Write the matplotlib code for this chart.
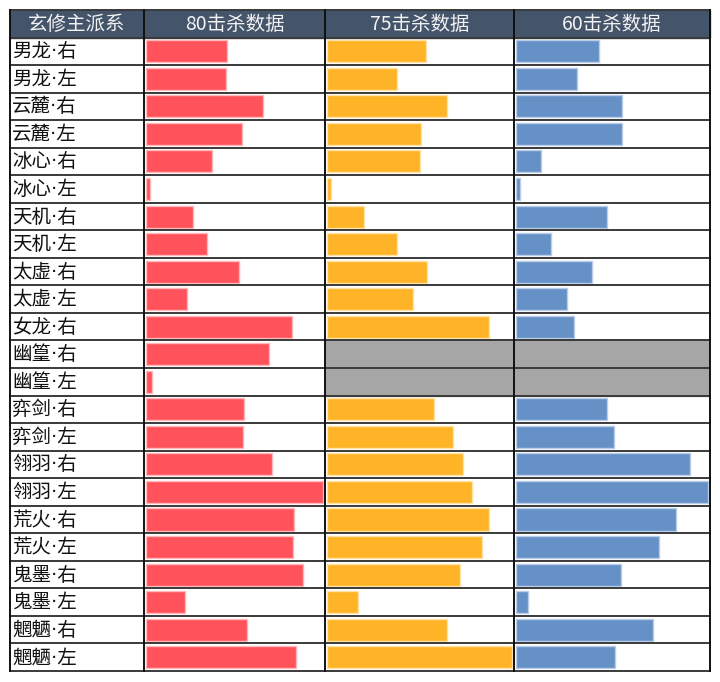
import numpy as np
import matplotlib
matplotlib.use("Agg")
import matplotlib.pyplot as plt

plt.rcParams['font.family'] = ['Noto Sans CJK SC', 'DejaVu Sans']

# 数据（按最大值归一化后的百分比，从图中读取）
names = ["男龙·右", "男龙·左", "云麓·右", "云麓·左", "冰心·右", "冰心·左",
         "天机·右", "天机·左", "太虚·右", "太虚·左", "女龙·右", "幽篁·右",
         "幽篁·左", "弈剑·右", "弈剑·左", "翎羽·右", "翎羽·左", "荒火·右",
         "荒火·左", "鬼墨·右", "鬼墨·左", "魍魉·右", "魍魉·左"]
headers = ["玄修主派系", "80击杀数据", "75击杀数据", "60击杀数据"]
kill80 = [45.8, 45.0, 66.2, 54.2, 37.3, 2.1, 26.6, 34.5, 52.7, 23.3, 82.3, 69.6,
          3.6, 55.5, 54.8, 71.1, 100.0, 83.8, 82.9, 88.7, 21.8, 57.0, 84.6]
kill75 = [53.4, 37.7, 64.8, 50.7, 50.0, 1.8, 20.2, 37.7, 53.9, 46.6, 87.9, np.nan,
          np.nan, 58.1, 68.2, 73.6, 78.5, 87.9, 83.7, 72.2, 16.8, 64.8, 100.0]
kill60 = [43.1, 31.9, 55.0, 55.0, 12.9, 1.9, 47.6, 18.1, 39.8, 26.7, 30.0, np.nan,
          np.nan, 47.6, 50.9, 90.9, 100.0, 83.6, 74.5, 54.8, 6.3, 71.2, 51.6]
series = [kill80, kill75, kill60]
bar_colors = ["#FF525A", "#FFB427", "#6591C7"]
edge_colors = ["#FFB8BC", "#FFE2A6", "#B9CDE8"]

# 版面（像素）
W, H = 720, 682
col_edges = [10, 144, 325, 514, 710]
top, head_bottom, bottom = 10, 37.5, 671
n = len(names)

fig = plt.figure(figsize=(W / 100, H / 100), dpi=100)

# 背景：表头和名称列
bg = fig.add_axes([0, 0, 1, 1])
bg.set_xlim(0, W)
bg.set_ylim(H, 0)
bg.axis("off")
bg.add_patch(plt.Rectangle((col_edges[0], top), col_edges[-1] - col_edges[0],
                           head_bottom - top, color="#44546A", zorder=0))
row_h = (bottom - head_bottom) / n
for j, h in enumerate(headers):
    cx = (col_edges[j] + col_edges[j + 1]) / 2
    bg.text(cx, (top + head_bottom) / 2 + 0.5, h, color="#F2F2F2", fontsize=14,
            ha="center", va="center")
for i, name in enumerate(names):
    # 中点用 DejaVu（窄），汉字退回到 Noto CJK
    bg.text(col_edges[0] + 2, head_bottom + (i + 0.5) * row_h + 0.5, name,
            fontsize=14, ha="left", va="center", color="#111111",
            family=['DejaVu Sans', 'Noto Sans CJK SC'])

# 数据条
for k in range(3):
    x0, x1 = col_edges[k + 1], col_edges[k + 2]
    ax = fig.add_axes([x0 / W, (H - bottom) / H, (x1 - x0) / W,
                       (bottom - head_bottom) / H])
    vals = np.array(series[k], dtype=float)
    vmax = np.nanmax(vals)
    ax.set_xlim(-0.012 * vmax, 1.012 * vmax)
    ax.set_ylim(n - 0.5, -0.5)
    ax.axis("off")
    idx = np.arange(n)
    miss = np.isnan(vals)
    for i in idx[miss]:
        ax.axhspan(i - 0.5, i + 0.5, color="#A6A6A6", zorder=0)
    ax.barh(idx[~miss], vals[~miss], height=0.8,
            color=bar_colors[k], edgecolor=edge_colors[k], linewidth=1)

# 网格线
ov = fig.add_axes([0, 0, 1, 1])
ov.set_xlim(0, W)
ov.set_ylim(H, 0)
ov.axis("off")
for i in range(n + 1):
    y = head_bottom + i * row_h
    ov.plot([col_edges[0], col_edges[-1]], [y, y], color="#3A3A3A", lw=1.4)
ov.plot([col_edges[0], col_edges[-1]], [top, top], color="#3A3A3A", lw=1.4)
for x in col_edges:
    ov.plot([x, x], [top, bottom], color="#111111", lw=1.4)

fig.savefig("out.png", dpi=100, facecolor="white")
